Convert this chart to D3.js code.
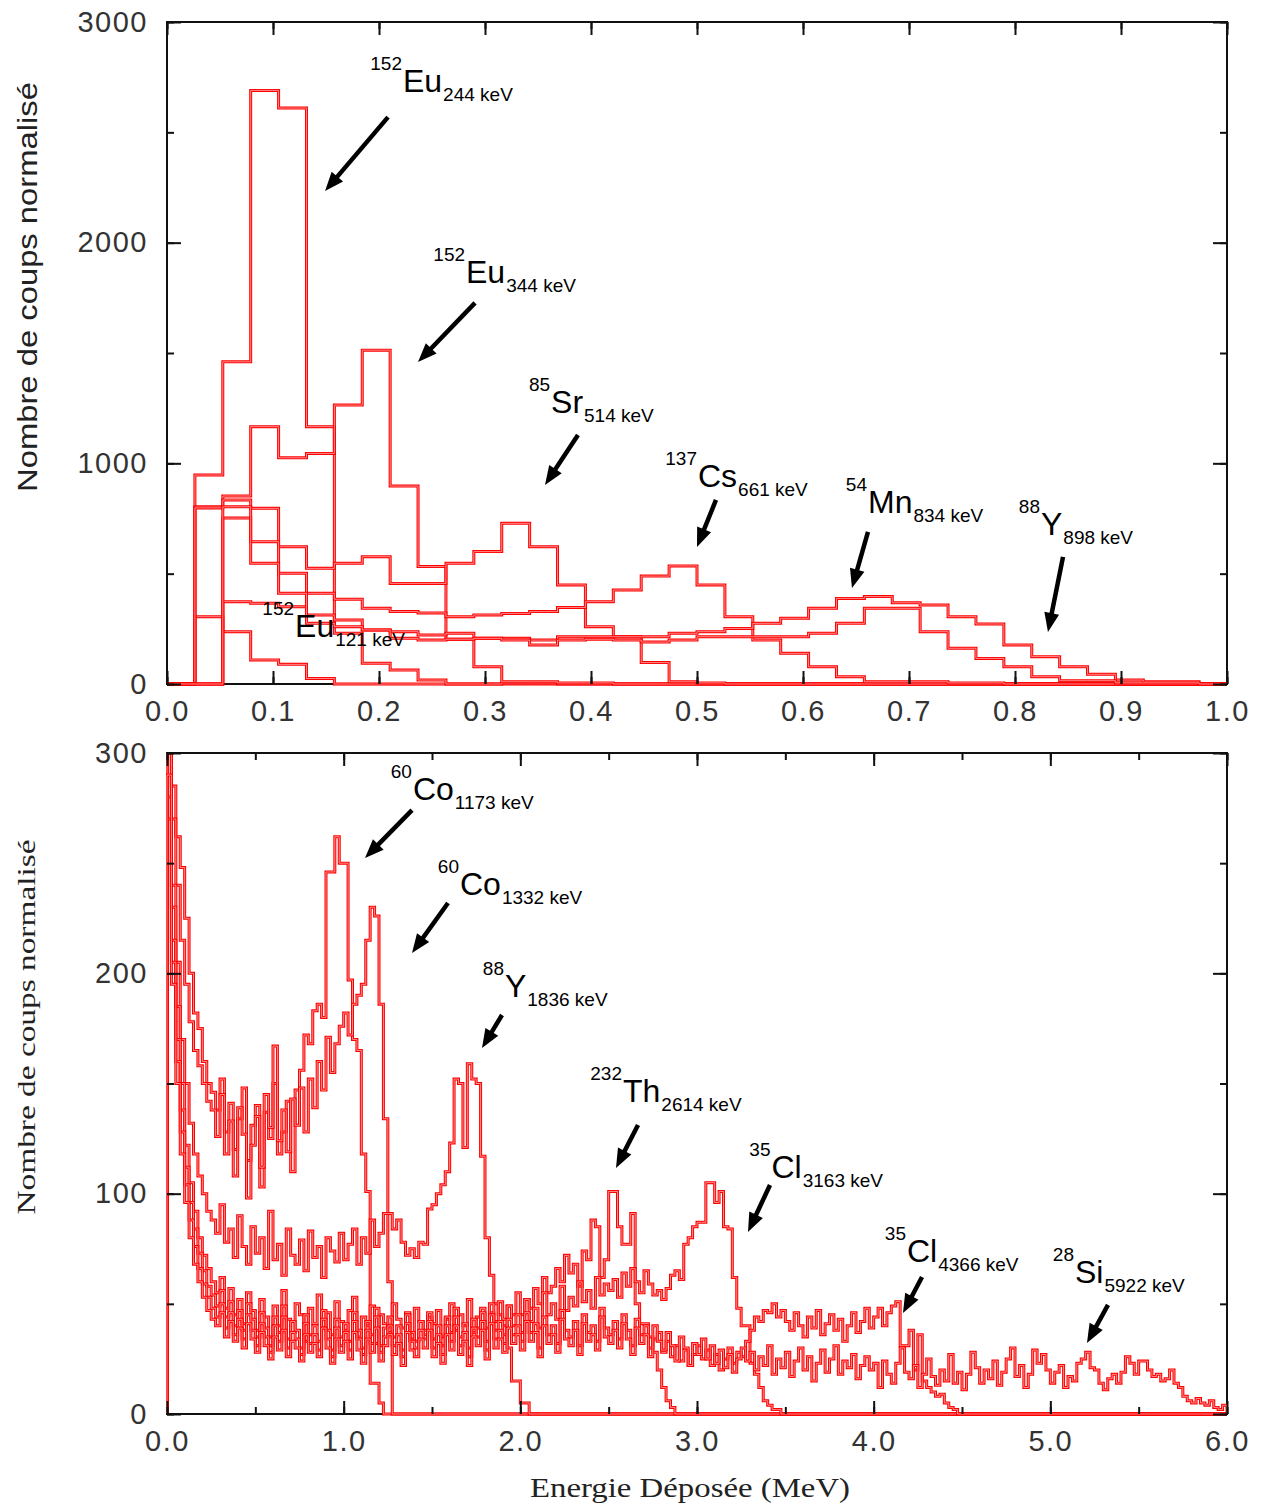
<!DOCTYPE html>
<html><head><meta charset="utf-8">
<script src="https://cdn.jsdelivr.net/npm/d3@7/dist/d3.min.js"></script>
<style>body{margin:0;background:#fff}svg{display:block}</style>
</head><body>
<svg id="c" width="1270" height="1508"></svg>
<script>
// ---------------- DATA ----------------
// Top panel: bins of 1/38 MeV starting at 0 MeV
const topBinMeV = 1 / 38;
const topXTicks = [0, 0.1, 0.2, 0.3, 0.4, 0.5, 0.6, 0.7, 0.8, 0.9, 1.0];
const topYTicks = [0, 1000, 2000, 3000];
const eu121 = [0, 305, 237, 109, 89, 25, 0];
const eu244 = [0, 947, 1460, 2690, 2610, 1166, 230, 94, 63, 18, 0, 0, 5, 5, 0];
const eu344 = [0, 803, 852, 1166, 1025, 1045, 1264, 1513, 897, 532, 203, 78, 10, 10, 5, 5, 0];
const sr514 = [0, 798, 834, 796, 622, 524, 547, 577, 456, 456, 547, 600, 728, 622, 449, 260, 214, 97, 10, 5, 0];
const cs661 = [0, 0, 752, 645, 502, 411, 384, 343, 328, 322, 305, 313, 320, 328, 347, 373, 426, 489, 535, 449, 305, 199, 139, 78, 33, 10, 10, 10, 5, 5, 0];
const mn834 = [0, 0, 373, 366, 350, 313, 290, 245, 237, 222, 230, 207, 207, 199, 214, 214, 214, 214, 230, 237, 252, 275, 298, 343, 388, 396, 368, 358, 305, 272, 177, 124, 78, 44, 18, 10, 10, 0];
const y898 = [0, 0, 803, 547, 411, 275, 260, 245, 207, 199, 203, 207, 199, 177, 199, 203, 199, 190, 199, 214, 214, 214, 214, 230, 275, 343, 343, 237, 162, 116, 78, 33, 15, 15, 5, 5, 5, 0];

// Bottom panel: bins of 0.025 MeV starting at 0 MeV
const botBinMeV = 0.025;
const botXTicks = [0, 1, 2, 3, 4, 5, 6];
const botYTicks = [0, 100, 200, 300];
const co1173 = [
 330, 285, 262, 248, 225, 200, 182, 175, 160, 150,
 146, 138, 152, 128, 141, 120, 134, 148, 115, 131,
 140, 103, 137, 125, 150, 118, 128, 142, 110, 147,
 156, 172, 168, 183, 186, 180, 246, 246, 262, 250,
 250, 197, 170, 165, 118, 101, 14, 14, 5];
const co1332 = [
 320, 270, 240, 215, 195, 178, 165, 158, 150, 142,
 138, 126, 145, 118, 133, 108, 139, 127, 98, 122,
 135, 112, 145, 130, 167, 124, 138, 119, 143, 131,
 148, 128, 152, 139, 160, 147, 171, 155, 168, 176,
 182, 172, 186, 190, 195, 215, 230, 226, 186, 134,
 60];
const y1836 = [
 310, 240, 205, 170, 150, 132, 118, 108, 100, 92,
 88, 82, 95, 78, 84, 71, 90, 76, 68, 85,
 73, 80, 66, 92, 70, 77, 63, 84, 72, 68,
 79, 65, 83, 71, 76, 62, 80, 74, 69, 82,
 70, 77, 84, 68, 80, 73, 88, 76, 82, 91,
 91, 84, 88, 78, 72, 75, 71, 78, 77, 93,
 95, 100, 104, 110, 123, 152, 150, 121, 159, 152,
 150, 117, 80, 63, 50, 45, 40, 30, 15, 15,
 5, 5];
const th2614 = [
 280, 230, 185, 150, 122, 105, 92, 80, 72, 66,
 60, 55, 62, 48, 57, 45, 52, 41, 55, 47,
 38, 52, 44, 35, 49, 40, 56, 43, 37, 50,
 45, 33, 48, 41, 54, 39, 46, 36, 51, 42,
 38, 47, 53, 35, 44, 40, 49, 32, 45, 41,
 37, 50, 43, 39, 46, 34, 48, 42, 36, 44,
 41, 47, 35, 43, 50, 38, 45, 40, 52, 37,
 44, 48, 39, 46, 42, 51, 43, 49, 45, 55,
 45, 52, 48, 57, 50, 62, 55, 58, 66, 60,
 72, 64, 68, 58, 74, 70, 88, 85, 62, 70,
 101, 101, 85, 77, 77, 91, 50, 41, 41, 35,
 28, 20, 12, 6, 3];
const cl3163 = [
 270, 215, 170, 138, 112, 96, 84, 73, 65, 58,
 54, 49, 56, 44, 51, 40, 47, 38, 50, 43,
 35, 46, 39, 31, 44, 37, 49, 34, 42, 38,
 30, 45, 36, 40, 33, 47, 38, 29, 43, 35,
 41, 33, 46, 38, 30, 42, 36, 48, 31, 39,
 44, 35, 40, 29, 45, 37, 33, 42, 38, 46,
 34, 40, 31, 44, 37, 48, 35, 41, 30, 43,
 39, 46, 33, 50, 38, 42, 36, 49, 40, 45,
 37, 52, 42, 48, 39, 55, 45, 50, 43, 58,
 47, 53, 49, 60, 51, 56, 48, 62, 54, 59,
 56, 61, 53, 64, 58, 66, 60, 55, 65, 59,
 54, 56, 52, 57, 63, 65, 61, 77, 80, 85,
 87, 87, 105, 105, 96, 101, 85, 84, 62, 48,
 40, 40, 23, 18, 12, 6, 4, 2, 2, 0];
const cl4366 = [
 300, 205, 160, 128, 104, 88, 76, 66, 59, 53,
 48, 44, 50, 39, 46, 36, 43, 34, 45, 38,
 31, 41, 35, 28, 40, 33, 44, 30, 37, 34,
 27, 41, 32, 36, 29, 43, 34, 26, 39, 31,
 37, 29, 42, 34, 27, 38, 32, 44, 28, 35,
 40, 31, 36, 26, 41, 33, 30, 38, 34, 42,
 30, 36, 27, 40, 33, 44, 31, 37, 26, 39,
 35, 42, 29, 45, 34, 38, 32, 43, 36, 40,
 33, 46, 37, 41, 30, 44, 36, 40, 32, 47,
 38, 35, 42, 31, 45, 37, 40, 33, 48, 39,
 36, 42, 34, 45, 38, 31, 43, 36, 40, 30,
 34, 37, 28, 33, 26, 31, 24, 29, 22, 27,
 31, 25, 29, 22, 27, 20, 25, 30, 23, 28,
 26, 33, 38, 44, 42, 47, 46, 50, 44, 47,
 42, 38, 46, 40, 35, 44, 39, 47, 36, 41,
 45, 38, 43, 33, 40, 46, 37, 42, 48, 39,
 44, 48, 40, 46, 49, 51, 31, 31, 38, 20,
 36, 15, 12, 10, 8, 9, 5, 3, 2];
const si5922 = [
 290, 195, 150, 118, 96, 80, 68, 60, 53, 47,
 43, 40, 46, 35, 42, 33, 39, 30, 41, 34,
 28, 37, 31, 25, 35, 29, 38, 26, 33, 30,
 24, 36, 28, 32, 26, 39, 30, 23, 34, 28,
 33, 25, 37, 29, 23, 34, 28, 39, 24, 31,
 36, 27, 32, 22, 37, 29, 26, 34, 30, 38,
 26, 32, 23, 36, 29, 40, 27, 33, 22, 35,
 31, 38, 25, 41, 30, 34, 28, 39, 32, 36,
 29, 42, 33, 37, 26, 40, 32, 36, 28, 43,
 34, 31, 38, 27, 41, 33, 36, 29, 44, 35,
 32, 38, 30, 41, 34, 27, 39, 32, 36, 26,
 40, 33, 29, 37, 31, 24, 35, 30, 22, 32,
 27, 34, 25, 31, 23, 29, 21, 27, 19, 25,
 30, 24, 28, 20, 26, 22, 31, 18, 25, 21,
 28, 17, 24, 30, 20, 26, 15, 23, 29, 19,
 25, 31, 18, 24, 21, 27, 16, 22, 26, 20,
 23, 12, 24, 18, 14, 23, 30, 19, 16, 22,
 12, 18, 25, 17, 13, 20, 15, 27, 14, 19,
 11, 18, 28, 21, 14, 20, 16, 24, 13, 19,
 25, 30, 17, 22, 12, 18, 29, 23, 27, 20,
 14, 19, 22, 12, 17, 15, 23, 25, 28, 21,
 20, 14, 11, 16, 18, 14, 19, 26, 23, 18,
 24, 24, 20, 17, 18, 15, 16, 20, 14, 12,
 8, 6, 5, 7, 5, 4, 6, 3, 2, 4];

// Annotations (data units: MeV, counts) : isotope, line, label anchor, arrow tail/head
const topNotes = [
  {sup: "152", el: "Eu", sub: "244 keV", at: [0.2226, 2683], arrow: [[0.2085, 2569], [0.1491, 2234]]},
  {sup: "152", el: "Eu", sub: "344 keV", at: [0.2821, 1817], arrow: [[0.2906, 1727], [0.2368, 1459]]},
  {sup: "85", el: "Sr", sub: "514 keV", at: [0.3623, 1228], arrow: [[0.3877, 1128], [0.3566, 902]]},
  {sup: "137", el: "Cs", sub: "661 keV", at: [0.5009, 893], arrow: [[0.5179, 834], [0.5000, 621]]},
  {sup: "54", el: "Mn", sub: "834 keV", at: [0.6613, 775], arrow: [[0.6613, 689], [0.6462, 435]]},
  {sup: "88", el: "Y", sub: "898 keV", at: [0.8245, 675], arrow: [[0.8453, 576], [0.8311, 236]]},
  {sup: "152", el: "Eu", sub: "121 keV", at: [0.1208, 213], arrow: null}
];
const botNotes = [
  {sup: "60", el: "Co", sub: "1173 keV", at: [1.392, 278.7], arrow: [[1.3868, 274.1], [1.1208, 252.3]]},
  {sup: "60", el: "Co", sub: "1332 keV", at: [1.6585, 235.6], arrow: [[1.5906, 231.9], [1.3868, 209.2]]},
  {sup: "88", el: "Y", sub: "1836 keV", at: [1.913, 189.3], arrow: [[1.8962, 181.1], [1.783, 166.1]]},
  {sup: "232", el: "Th", sub: "2614 keV", at: [2.581, 141.6], arrow: [[2.666, 131.2], [2.5415, 111.7]]},
  {sup: "35", el: "Cl", sub: "3163 keV", at: [3.4217, 107.1], arrow: [[3.4132, 103.9], [3.2887, 82.6]]},
  {sup: "35", el: "Cl", sub: "4366 keV", at: [4.1887, 69.0], arrow: [[4.2736, 62.2], [4.166, 45.8]]},
  {sup: "28", el: "Si", sub: "5922 keV", at: [5.1396, 59.5], arrow: [[5.3264, 49.5], [5.2075, 32.2]]}
];

// ---------------- DRAWING ----------------
const svg = d3.select('#c');
svg.append('rect').attr('width', 1270).attr('height', 1508).attr('fill', '#fff');
const defs = svg.append('defs');
const SANS = "'Liberation Sans', Arial, sans-serif";
const SERIF = "'Liberation Serif', 'Times New Roman', serif";

function arrow(g, x1, y1, x2, y2) {
  const dx = x2 - x1, dy = y2 - y1, L = Math.hypot(dx, dy);
  const ux = dx / L, uy = dy / L, hl = 19, hw = 7.5;
  const bx = x2 - ux * hl, by = y2 - uy * hl;
  g.append('line').attr('x1', x1).attr('y1', y1).attr('x2', bx + ux * 3).attr('y2', by + uy * 3)
    .attr('stroke', '#000').attr('stroke-width', 4.5);
  g.append('path').attr('d', `M${x2},${y2}L${bx - uy * hw},${by + ux * hw}L${bx + uy * hw},${by - ux * hw}Z`)
    .attr('fill', '#000');
}

function panel(o) {
  const x = d3.scaleLinear().domain(o.xDomain).range([167, 1227]);
  const y = d3.scaleLinear().domain(o.yDomain).range(o.yRange);
  const g = svg.append('g');
  const top = o.yRange[1], bot = o.yRange[0];
  // frame
  g.append('rect').attr('x', 167).attr('y', top).attr('width', 1060).attr('height', bot - top)
    .attr('fill', 'none').attr('stroke', '#111').attr('stroke-width', 2);
  // series
  defs.append('clipPath').attr('id', 'clip' + o.name).append('rect')
    .attr('x', 166).attr('y', top).attr('width', 1062).attr('height', bot - top + 3);
  const line = d3.line().x(d => x(d[0])).y(d => y(d[1])).curve(d3.curveStepAfter);
  const sg = g.append('g').attr('clip-path', `url(#clip${o.name})`);
  o.series.forEach(vals => {
    const pts = [[0, 0]];
    vals.forEach((v, i) => pts.push([i * o.bin, v]));
    pts.push([vals.length * o.bin, 0]);
    pts.push([o.xDomain[1], 0]);
    const d = line(pts);
    sg.append('path').attr('d', d).attr('fill', 'none')
      .attr('stroke', '#ff0000').attr('stroke-width', 3).attr('stroke-linejoin', 'miter');
    sg.append('path').attr('d', d).attr('fill', 'none')
      .attr('stroke', '#ffb0b0').attr('stroke-width', 0.8).attr('stroke-linejoin', 'miter');
  });
  // axes
  const styleAxis = (sel) => {
    sel.select('.domain').remove();
    sel.selectAll('.tick line').attr('stroke', '#111').attr('stroke-width', 2);
    sel.selectAll('.tick text').attr('font-family', SANS).attr('font-size', 29)
      .attr('fill', '#333').attr('letter-spacing', '1.5px');
  };
  const minorX = d3.range(o.xDomain[0], o.xDomain[1] + 1e-9, o.xMinor);
  const minorY = d3.range(o.yDomain[0], o.yDomain[1] + 1e-9, o.yMinor);
  // bottom
  g.append('g').attr('transform', `translate(0,${bot})`)
    .call(d3.axisBottom(x).tickValues(minorX).tickSize(-7).tickFormat('')).call(styleAxis);
  g.append('g').attr('transform', `translate(0,${bot})`)
    .call(d3.axisBottom(x).tickValues(o.xTicks).tickSize(-13).tickPadding(16).tickFormat(d3.format('.1f'))).call(styleAxis);
  // top
  g.append('g').attr('transform', `translate(0,${top})`)
    .call(d3.axisTop(x).tickValues(minorX).tickSize(-7).tickFormat('')).call(styleAxis);
  g.append('g').attr('transform', `translate(0,${top})`)
    .call(d3.axisTop(x).tickValues(o.xTicks).tickSize(-13).tickFormat('')).call(styleAxis);
  // left
  g.append('g').attr('transform', `translate(167,0)`)
    .call(d3.axisLeft(y).tickValues(minorY).tickSize(-7).tickFormat('')).call(styleAxis);
  g.append('g').attr('transform', `translate(167,0)`)
    .call(d3.axisLeft(y).tickValues(o.yTicks).tickSize(-14).tickPadding(19).tickFormat(d3.format('d'))).call(styleAxis);
  // right
  g.append('g').attr('transform', `translate(1227,0)`)
    .call(d3.axisRight(y).tickValues(minorY).tickSize(-7).tickFormat('')).call(styleAxis);
  g.append('g').attr('transform', `translate(1227,0)`)
    .call(d3.axisRight(y).tickValues(o.yTicks).tickSize(-14).tickFormat('')).call(styleAxis);

  // annotations
  const ag = g.append('g');
  o.notes.forEach(n => {
    const mx = x(n.at[0]), my = y(n.at[1]);
    const m = ag.append('text').attr('x', mx).attr('y', my).attr('font-family', SANS)
      .attr('font-size', 32).attr('fill', '#000').text(n.el);
    const w = m.node().getComputedTextLength();
    ag.append('text').attr('x', mx - 1).attr('y', my - 22).attr('text-anchor', 'end')
      .attr('font-family', SANS).attr('font-size', 19).attr('fill', '#000').text(n.sup);
    ag.append('text').attr('x', mx + w + 1).attr('y', my + 9)
      .attr('font-family', SANS).attr('font-size', 19).attr('fill', '#000').text(n.sub);
    if (n.arrow) arrow(ag, x(n.arrow[0][0]), y(n.arrow[0][1]), x(n.arrow[1][0]), y(n.arrow[1][1]));
  });
  return {x, y};
}

panel({name: 'top', xDomain: [0, 1], yDomain: [0, 3000], yRange: [684, 22], bin: topBinMeV,
  xTicks: topXTicks, yTicks: topYTicks, xMinor: 0.1, yMinor: 500,
  series: [eu121, eu244, eu344, sr514, cs661, mn834, y898], notes: topNotes});
panel({name: 'bot', xDomain: [0, 6], yDomain: [0, 300], yRange: [1414, 753], bin: botBinMeV,
  xTicks: botXTicks, yTicks: botYTicks, xMinor: 0.5, yMinor: 50,
  series: [co1173, co1332, y1836, th2614, cl3163, cl4366, si5922], notes: botNotes});

// axis titles
svg.append('text').attr('transform', 'translate(37,287) rotate(-90)').attr('text-anchor', 'middle')
  .attr('font-family', SANS).attr('font-size', 28).attr('fill', '#222')
  .attr('textLength', 410).attr('lengthAdjust', 'spacingAndGlyphs').text('Nombre de coups normalisé');
svg.append('text').attr('transform', 'translate(35,1027) rotate(-90)').attr('text-anchor', 'middle')
  .attr('font-family', SERIF).attr('font-size', 26).attr('fill', '#222')
  .attr('textLength', 375).attr('lengthAdjust', 'spacingAndGlyphs').text('Nombre de coups normalisé');
svg.append('text').attr('x', 690).attr('y', 1497).attr('text-anchor', 'middle')
  .attr('font-family', SERIF).attr('font-size', 28).attr('fill', '#222')
  .attr('textLength', 320).attr('lengthAdjust', 'spacingAndGlyphs').text('Energie Déposée (MeV)');
</script>
</body></html>
